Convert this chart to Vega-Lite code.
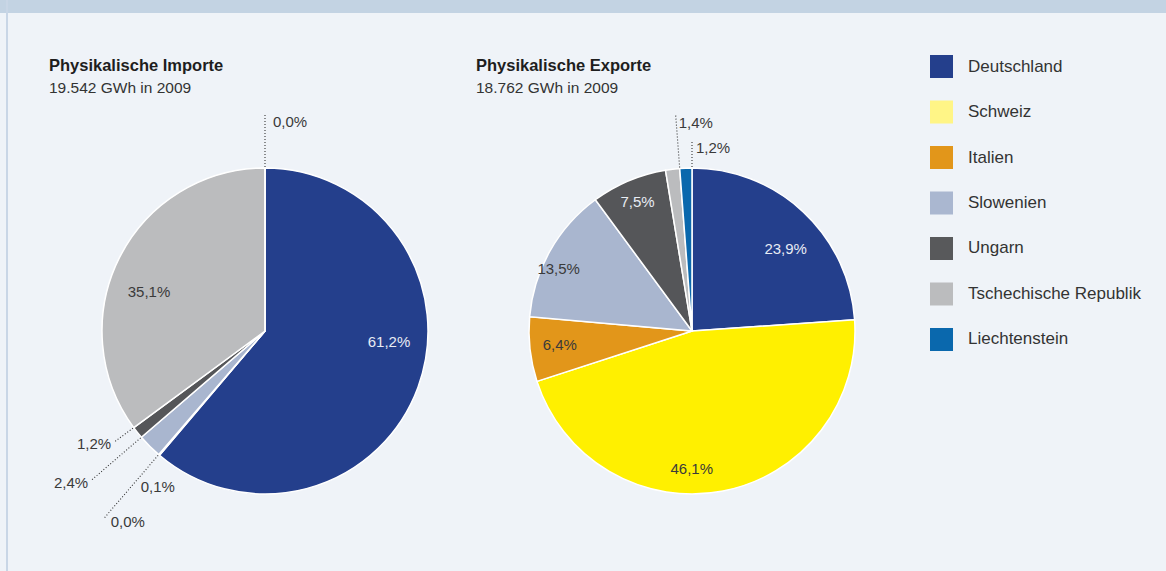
{
  "$schema": "https://vega.github.io/schema/vega-lite/v6.json",
  "background": "#eff3f8",
  "padding": 0,
  "config": {
    "view": {"stroke": null},
    "font": "Liberation Sans",
    "locale": {"number": {"decimal": ",", "thousands": ".", "grouping": [3], "currency": ["", " €"]}},
    "title": {"anchor": "start", "frame": "group", "font": "Liberation Sans", "fontSize": 16.5, "fontWeight": "bold", "color": "#1e1e1e", "subtitleFont": "Liberation Sans", "subtitleFontSize": 15.5, "subtitleColor": "#333333", "subtitlePadding": 6.5, "offset": 5}
  },
  "datasets": {
    "shares": [
      {"flow": "Importe", "country": "Deutschland", "share": 0.612, "rank": 1},
      {"flow": "Importe", "country": "Schweiz", "share": 0.001, "rank": 2},
      {"flow": "Importe", "country": "Italien", "share": 0.000, "rank": 3},
      {"flow": "Importe", "country": "Slowenien", "share": 0.024, "rank": 4},
      {"flow": "Importe", "country": "Ungarn", "share": 0.012, "rank": 5},
      {"flow": "Importe", "country": "Tschechische Republik", "share": 0.351, "rank": 6},
      {"flow": "Importe", "country": "Liechtenstein", "share": 0.000, "rank": 7},
      {"flow": "Exporte", "country": "Deutschland", "share": 0.239, "rank": 1},
      {"flow": "Exporte", "country": "Schweiz", "share": 0.461, "rank": 2},
      {"flow": "Exporte", "country": "Italien", "share": 0.064, "rank": 3},
      {"flow": "Exporte", "country": "Slowenien", "share": 0.135, "rank": 4},
      {"flow": "Exporte", "country": "Ungarn", "share": 0.075, "rank": 5},
      {"flow": "Exporte", "country": "Tschechische Republik", "share": 0.014, "rank": 6},
      {"flow": "Exporte", "country": "Liechtenstein", "share": 0.012, "rank": 7}
    ]
  },
  "spacing": 0,
  "bounds": "flush",
  "hconcat": [
    {"width": 6, "height": 13, "view": {"fill": "#c3d3e3", "stroke": null}, "data": {"values": []}, "mark": "point"},
    {"width": 2, "height": 571, "view": {"fill": "#c9d6e6", "stroke": null}, "data": {"values": []}, "mark": "point"},
    {
      "spacing": 42,
      "vconcat": [
        {
          "width": 1158, "height": 13,
          "view": {"fill": "#c3d3e3", "stroke": null},
          "data": {"values": []},
          "mark": "point"
        },
        {
          "spacing": 0,
          "bounds": "flush",
          "resolve": {"scale": {"color": "independent", "theta": "independent", "y": "independent"}},
          "hconcat": [
            {"width": 41, "height": 1, "data": {"values": []}, "mark": "point"},
            {
              "width": 432, "height": 460,
              "title": {"text": "Physikalische Importe", "subtitle": "19.542 GWh in 2009"},
              "data": {"name": "shares"},
              "transform": [
                {"filter": "datum.flow === 'Importe'"},
                {"window": [{"op": "sum", "field": "share", "as": "cum"}], "sort": [{"field": "rank"}]}
              ],
              "layer": [
                {
                  "mark": {"type": "arc", "radius": 163, "stroke": "#ffffff", "strokeWidth": 1.5},
                  "encoding": {
                    "theta": {"field": "share", "type": "quantitative", "stack": true, "scale": {"domain": [0, 1]}},
                    "order": {"field": "rank", "type": "quantitative"},
                    "color": {"field": "country", "type": "nominal", "legend": null,
                      "scale": {"domain": ["Deutschland", "Schweiz", "Italien", "Slowenien", "Ungarn", "Tschechische Republik", "Liechtenstein"],
                                "range": ["#243f8c", "#fff000", "#e2961a", "#a9b6cf", "#555659", "#bbbcbe", "#0a68ad"]}}
                  }
                },
                {
                  "mark": {"type": "text", "radius": 130, "fontSize": 15, "color": "#e8ecf4", "dx": 2, "dy": -34},
                  "encoding": {
                    "theta": {"field": "share", "type": "quantitative", "stack": true, "scale": {"domain": [0, 1]}},
                    "order": {"field": "rank", "type": "quantitative"},
                    "text": {"condition": {"test": "datum.country === 'Deutschland'", "field": "share", "type": "quantitative", "format": ".1%"}, "value": ""}
                  }
                },
                {
                  "mark": {"type": "text", "radius": 130, "fontSize": 15, "color": "#3a3a3a", "dx": 0, "dy": 20},
                  "encoding": {
                    "theta": {"field": "share", "type": "quantitative", "stack": true, "scale": {"domain": [0, 1]}},
                    "order": {"field": "rank", "type": "quantitative"},
                    "text": {"condition": {"test": "datum.country === 'Tschechische Republik'", "field": "share", "type": "quantitative", "format": ".1%"}, "value": ""}
                  }
                },
                {
                  "transform": [{"filter": "datum.country === 'Liechtenstein'"}],
                  "mark": {"type": "arc", "radius": 216, "radius2": 163, "filled": false, "stroke": "#333333", "strokeWidth": 1.1, "strokeDash": [1, 2]},
                  "encoding": {
                    "theta": {"field": "cum", "type": "quantitative", "stack": null, "scale": {"domain": [0, 1]}},
                    "theta2": {"field": "cum"}
                  }
                },
                {
                  "transform": [{"filter": "datum.country === 'Ungarn'"}],
                  "mark": {"type": "arc", "radius": 186, "radius2": 163, "filled": false, "stroke": "#333333", "strokeWidth": 1.1, "strokeDash": [1, 2]},
                  "encoding": {
                    "theta": {"field": "cum", "type": "quantitative", "stack": null, "scale": {"domain": [0, 1]}},
                    "theta2": {"field": "cum"}
                  }
                },
                {
                  "transform": [{"filter": "datum.country === 'Slowenien'"}],
                  "mark": {"type": "arc", "radius": 228, "radius2": 163, "filled": false, "stroke": "#333333", "strokeWidth": 1.1, "strokeDash": [1, 2]},
                  "encoding": {
                    "theta": {"field": "cum", "type": "quantitative", "stack": null, "scale": {"domain": [0, 1]}},
                    "theta2": {"field": "cum"}
                  }
                },
                {
                  "transform": [{"filter": "datum.country === 'Italien'"}],
                  "mark": {"type": "arc", "radius": 246, "radius2": 163, "filled": false, "stroke": "#333333", "strokeWidth": 1.1, "strokeDash": [1, 2]},
                  "encoding": {
                    "theta": {"field": "cum", "type": "quantitative", "stack": null, "scale": {"domain": [0, 1]}},
                    "theta2": {"field": "cum"}
                  }
                },
                {
                  "transform": [{"filter": "datum.country === 'Liechtenstein'"}],
                  "mark": {"type": "text", "radius": 209, "align": "left", "baseline": "middle", "dx": 8, "fontSize": 15, "color": "#3a3a3a"},
                  "encoding": {
                    "theta": {"field": "cum", "type": "quantitative", "stack": null, "scale": {"domain": [0, 1]}},
                    "text": {"field": "share", "type": "quantitative", "format": ".1%"}
                  }
                },
                {
                  "transform": [{"filter": "datum.country === 'Ungarn'"}],
                  "mark": {"type": "text", "radius": 186, "align": "right", "baseline": "middle", "dx": -4, "dy": 3, "fontSize": 15, "color": "#3a3a3a"},
                  "encoding": {
                    "theta": {"field": "cum", "type": "quantitative", "stack": null, "scale": {"domain": [0, 1]}},
                    "text": {"field": "share", "type": "quantitative", "format": ".1%"}
                  }
                },
                {
                  "transform": [{"filter": "datum.country === 'Slowenien'"}],
                  "mark": {"type": "text", "radius": 228, "align": "right", "baseline": "middle", "dx": -4, "dy": 3, "fontSize": 15, "color": "#3a3a3a"},
                  "encoding": {
                    "theta": {"field": "cum", "type": "quantitative", "stack": null, "scale": {"domain": [0, 1]}},
                    "text": {"field": "share", "type": "quantitative", "format": ".1%"}
                  }
                },
                {
                  "transform": [{"filter": "datum.country === 'Schweiz'"}],
                  "mark": {"type": "text", "radius": 200, "align": "left", "baseline": "middle", "dx": 6, "dy": 4, "fontSize": 15, "color": "#3a3a3a"},
                  "encoding": {
                    "theta": {"field": "cum", "type": "quantitative", "stack": null, "scale": {"domain": [0, 1]}},
                    "text": {"field": "share", "type": "quantitative", "format": ".1%"}
                  }
                },
                {
                  "transform": [{"filter": "datum.country === 'Italien'"}],
                  "mark": {"type": "text", "radius": 246, "align": "left", "baseline": "middle", "dx": 6, "dy": 4, "fontSize": 15, "color": "#3a3a3a"},
                  "encoding": {
                    "theta": {"field": "cum", "type": "quantitative", "stack": null, "scale": {"domain": [0, 1]}},
                    "text": {"field": "share", "type": "quantitative", "format": ".1%"}
                  }
                }
              ]
            },
            {
              "width": 422, "height": 460,
              "title": {"text": "Physikalische Exporte", "subtitle": "18.762 GWh in 2009", "dx": -5},
              "data": {"name": "shares"},
              "transform": [
                {"filter": "datum.flow === 'Exporte'"},
                {"window": [{"op": "sum", "field": "share", "as": "cum"}], "sort": [{"field": "rank"}]}
              ],
              "layer": [
                {
                  "mark": {"type": "arc", "radius": 163, "stroke": "#ffffff", "strokeWidth": 1.5},
                  "encoding": {
                    "theta": {"field": "share", "type": "quantitative", "stack": true, "scale": {"domain": [0, 1]}},
                    "order": {"field": "rank", "type": "quantitative"},
                    "color": {"field": "country", "type": "nominal", "legend": null,
                      "scale": {"domain": ["Deutschland", "Schweiz", "Italien", "Slowenien", "Ungarn", "Tschechische Republik", "Liechtenstein"],
                                "range": ["#243f8c", "#fff000", "#e2961a", "#a9b6cf", "#555659", "#bbbcbe", "#0a68ad"]}}
                  }
                },
                {
                  "mark": {"type": "text", "radius": 130, "fontSize": 15, "color": "#e8ecf4", "dx": 5, "dy": 13},
                  "encoding": {
                    "theta": {"field": "share", "type": "quantitative", "stack": true, "scale": {"domain": [0, 1]}},
                    "order": {"field": "rank", "type": "quantitative"},
                    "text": {"condition": {"test": "datum.country === 'Deutschland'", "field": "share", "type": "quantitative", "format": ".1%"}, "value": ""}
                  }
                },
                {
                  "mark": {"type": "text", "radius": 130, "fontSize": 15, "color": "#3a3a3a", "dx": -25, "dy": 10},
                  "encoding": {
                    "theta": {"field": "share", "type": "quantitative", "stack": true, "scale": {"domain": [0, 1]}},
                    "order": {"field": "rank", "type": "quantitative"},
                    "text": {"condition": {"test": "datum.country === 'Schweiz'", "field": "share", "type": "quantitative", "format": ".1%"}, "value": ""}
                  }
                },
                {
                  "mark": {"type": "text", "radius": 130, "fontSize": 15, "color": "#3a3a3a", "dx": -3, "dy": -1},
                  "encoding": {
                    "theta": {"field": "share", "type": "quantitative", "stack": true, "scale": {"domain": [0, 1]}},
                    "order": {"field": "rank", "type": "quantitative"},
                    "text": {"condition": {"test": "datum.country === 'Italien'", "field": "share", "type": "quantitative", "format": ".1%"}, "value": ""}
                  }
                },
                {
                  "mark": {"type": "text", "radius": 130, "fontSize": 15, "color": "#3a3a3a", "dx": -20, "dy": 2},
                  "encoding": {
                    "theta": {"field": "share", "type": "quantitative", "stack": true, "scale": {"domain": [0, 1]}},
                    "order": {"field": "rank", "type": "quantitative"},
                    "text": {"condition": {"test": "datum.country === 'Slowenien'", "field": "share", "type": "quantitative", "format": ".1%"}, "value": ""}
                  }
                },
                {
                  "mark": {"type": "text", "radius": 130, "fontSize": 15, "color": "#e8ecf4", "dx": -4, "dy": -9},
                  "encoding": {
                    "theta": {"field": "share", "type": "quantitative", "stack": true, "scale": {"domain": [0, 1]}},
                    "order": {"field": "rank", "type": "quantitative"},
                    "text": {"condition": {"test": "datum.country === 'Ungarn'", "field": "share", "type": "quantitative", "format": ".1%"}, "value": ""}
                  }
                },
                {
                  "transform": [{"filter": "datum.country === 'Tschechische Republik'"}],
                  "mark": {"type": "arc", "radius": 216, "radius2": 163, "filled": false, "stroke": "#333333", "strokeWidth": 1.1, "strokeDash": [1, 2]},
                  "encoding": {
                    "theta": {"field": "cum", "type": "quantitative", "stack": null, "scale": {"domain": [0, 1]}},
                    "theta2": {"field": "cum"}
                  }
                },
                {
                  "transform": [{"filter": "datum.country === 'Liechtenstein'"}],
                  "mark": {"type": "arc", "radius": 189, "radius2": 163, "filled": false, "stroke": "#333333", "strokeWidth": 1.1, "strokeDash": [1, 2]},
                  "encoding": {
                    "theta": {"field": "cum", "type": "quantitative", "stack": null, "scale": {"domain": [0, 1]}},
                    "theta2": {"field": "cum"}
                  }
                },
                {
                  "transform": [{"filter": "datum.country === 'Tschechische Republik'"}],
                  "mark": {"type": "text", "radius": 216, "align": "left", "baseline": "middle", "dx": 3, "dy": 7, "fontSize": 15, "color": "#3a3a3a"},
                  "encoding": {
                    "theta": {"field": "cum", "type": "quantitative", "stack": null, "scale": {"domain": [0, 1]}},
                    "text": {"field": "share", "type": "quantitative", "format": ".1%"}
                  }
                },
                {
                  "transform": [{"filter": "datum.country === 'Liechtenstein'"}],
                  "mark": {"type": "text", "radius": 189, "align": "left", "baseline": "middle", "dx": 4, "dy": 6, "fontSize": 15, "color": "#3a3a3a"},
                  "encoding": {
                    "theta": {"field": "cum", "type": "quantitative", "stack": null, "scale": {"domain": [0, 1]}},
                    "text": {"field": "share", "type": "quantitative", "format": ".1%"}
                  }
                }
              ]
            },
            {
              "width": 77, "height": 296,
              "data": {"name": "shares"},
              "transform": [{"filter": "datum.flow === 'Importe'"}],
              "encoding": {
                "y": {"field": "rank", "type": "quantitative", "axis": null,
                      "scale": {"domain": [1.758, 8.264], "reverse": true, "zero": false, "nice": false}}
              },
              "layer": [
                {
                  "mark": {"type": "square", "size": 529, "filled": true, "opacity": 1},
                  "encoding": {
                    "color": {"field": "country", "type": "nominal", "legend": null,
                      "scale": {"domain": ["Deutschland", "Schweiz", "Italien", "Slowenien", "Ungarn", "Tschechische Republik", "Liechtenstein"],
                                "range": ["#243f8c", "#fff586", "#e2961a", "#aab7d0", "#58595b", "#bbbcbe", "#0a68ad"]}}
                  }
                },
                {
                  "mark": {"type": "text", "align": "left", "baseline": "middle", "dx": 26.5, "fontSize": 17, "color": "#333333"},
                  "encoding": {"text": {"field": "country", "type": "nominal"}}
                }
              ]
            }
          ]
        }
      ]
    }
  ]
}
